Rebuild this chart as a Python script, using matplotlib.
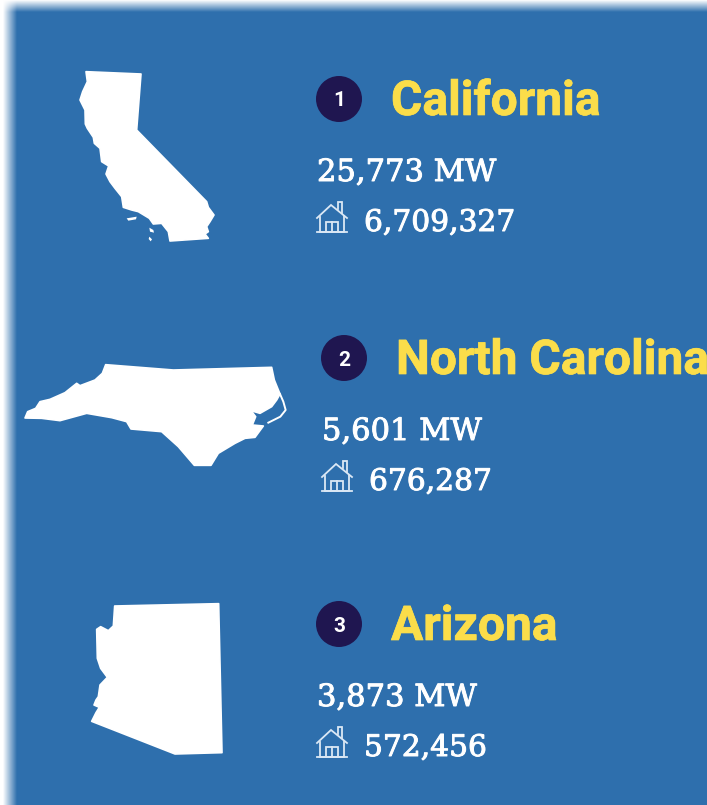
import numpy as np
import matplotlib
matplotlib.use("Agg")
import matplotlib.pyplot as plt
import matplotlib.patheffects as pe
from matplotlib.patches import Polygon, Circle

W, H = 707, 805
states = ["California", "North Carolina", "Arizona"]
ranks = ["1", "2", "3"]
megawatts = ["25,773 MW", "5,601 MW", "3,873 MW"]
homes = ["6,709,327", "676,287", "572,456"]

BLUE = "#2e6fad"
YELLOW = "#fbdd4a"
NAVY = "#1f1650"

# state outlines (zoom pixels, with zoom origin)
ca_zoom = [(78,65),(243,72),(230,240),(440,455),(445,472),(462,495),(450,515),(440,530),(445,545),(435,552),(445,565),
           (330,573),(325,545),(305,520),(280,522),(268,505),(235,485),(215,480),(190,472),(185,440),(165,415),(150,395),
           (138,372),(146,348),(125,335),(120,295),(103,280),(100,262),(82,235),(76,222),(75,180),(60,150),(68,125),(82,95)]
nc_zoom = [(272,44),(475,60),(770,52),(778,90),(795,132),(785,150),(770,170),(735,190),(708,182),(722,200),(712,225),
           (745,228),(720,262),(690,265),(660,280),(610,310),(588,346),(538,346),(490,290),(440,245),(348,237),(335,215),
           (290,203),(215,190),(135,212),(80,205),(30,204),(38,185),(62,175),(75,155),(105,148),(150,128),(185,100),(195,107),(240,90),(262,70)]
az_zoom = [(104,48),(416,41),(426,488),(285,492),(35,394),(48,368),(58,352),(42,345),(48,330),(55,320),(60,285),
           (82,262),(62,235),(52,205),(50,118),(62,110),(85,122),(100,108)]
ca_islands = [[(200,505),(230,500),(228,508),(205,512)], [(268,533),(280,540),(282,548),(270,545)], [(268,560),(276,568),(272,574),(266,567)]]
nc_banks = [(795,132),(805,155),(812,180),(796,200),(760,218)]
shapes = [(ca_zoom, (60,50)), (nc_zoom, (15,350)), (az_zoom, (80,590))]

fig = plt.figure(figsize=(W/100, H/100), dpi=100)
ax = fig.add_axes([0, 0, 1, 1])
ax.set_xlim(0, W); ax.set_ylim(H, 0); ax.axis("off")

# blue panel with blurred edge at top and left
xx, yy = np.meshgrid(np.arange(W)+.5, np.arange(H)+.5)
a = np.clip((xx-3)/14, 0, 1) * np.clip((yy-1)/12, 0, 1)
rgb = np.array(matplotlib.colors.to_rgb(BLUE))
img = 1 - a[..., None]*(1-rgb)
ax.imshow(img, extent=(0, W, H, 0), aspect="auto", interpolation="nearest", zorder=0)

for pts, (ox, oy) in shapes:
    ax.add_patch(Polygon([(ox+x/3, oy+y/3) for x, y in pts], closed=True, fc="white", ec="white", lw=1.2, joinstyle="round", zorder=2))
for isl in ca_islands:
    ax.add_patch(Polygon([(60+x/3, 50+y/3) for x, y in isl], closed=True, fc="white", ec="none", zorder=2))
ax.plot([15+x/3 for x, y in nc_banks], [350+y/3 for x, y in nc_banks], color="white", lw=1.4, zorder=2)

def house(cx, cy):
    c = "#dbe8f5"; lw = 1.3
    def L(p): ax.plot([cx+x for x, y in p], [cy+y for x, y in p], color=c, lw=lw, solid_joinstyle="miter", zorder=3)
    L([(-15,1),(-1,-12),(15,1)])
    L([(-12,0),(-12,15),(12,15),(12,-1)])
    L([(-15,15),(15,15)])
    L([(-6,15),(-6,5),(6,5),(6,15)])
    L([(0,5),(0,15)])
    L([(6,-8),(6,-15),(10,-15),(10,-4)])

title_fx = [pe.withStroke(linewidth=0.5, foreground=YELLOW)]
serif_fx = [pe.withStroke(linewidth=0.7, foreground="white")]
rows = [(339, 99), (344, 358), (339, 624)]
for i, (cx, cy) in enumerate(rows):
    ax.add_patch(Circle((cx, cy), 23, fc=NAVY, ec="none", zorder=2))
    ax.text(cx, cy, ranks[i], color="white", family="Roboto", weight="bold", fontsize=15, ha="center", va="center_baseline", zorder=3)
    ax.text(cx+52, cy+16, states[i], color=YELLOW, family="Roboto", weight="bold", fontsize=34.5, ha="left", va="baseline", clip_on=True, zorder=3, path_effects=title_fx)
    ax.text(cx-22, cy+82, megawatts[i], color="white", family="DejaVu Serif", fontsize=22, ha="left", va="baseline", zorder=3, path_effects=serif_fx)
    ax.text(cx+25, cy+132, homes[i], color="white", family="DejaVu Serif", fontsize=21.4, ha="left", va="baseline", zorder=3, path_effects=serif_fx)
    house(cx-7, cy+118)

fig.savefig("out.png", dpi=100)
